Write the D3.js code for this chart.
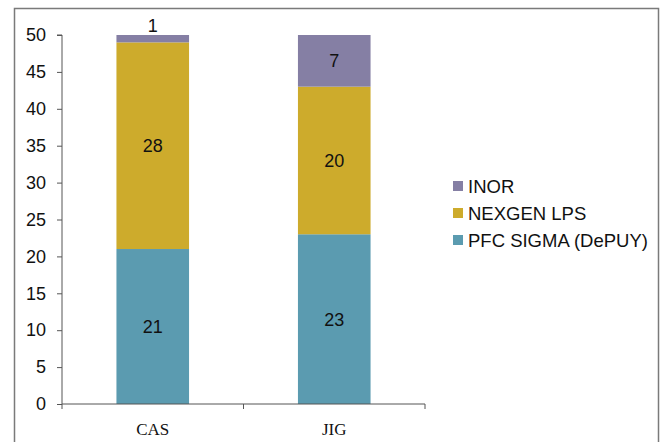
<!DOCTYPE html>
<html>
<head>
<meta charset="utf-8">
<script src="https://cdn.jsdelivr.net/npm/d3@7"></script>
<style>
  body { margin: 0; background: #fff; }
  svg { display: block; }
</style>
</head>
<body>
<div id="graphic"></div>
<script>
// chart data
const categories = ["CAS", "JIG"];
const seriesNames = ["PFC SIGMA (DePUY)", "NEXGEN LPS", "INOR"];
const pfcValues = [21, 23];
const nexgenValues = [28, 20];
const inorValues = [1, 7];
const yTicks = [0, 5, 10, 15, 20, 25, 30, 35, 40, 45, 50];

const colors = ["#5b9bb0", "#cdab2c", "#857fa4"];

const width = 660, height = 442;
const margin = {left: 62, top: 35, right: 235, bottom: 38};
const plotWidth = width - margin.left - margin.right;
const plotHeight = height - margin.top - margin.bottom;
const sans = "Liberation Sans, Arial, sans-serif";

const svg = d3.select("#graphic")
              .append("svg")
              .attr("width", width)
              .attr("height", height);

// outer frame
svg.append("rect")
   .attr("x", 14.5).attr("y", 8.5)
   .attr("width", 644).attr("height", 445)
   .attr("fill", "none")
   .attr("stroke", "#7a7a7a")
   .attr("stroke-width", 1.5);

const plot = svg.append("g")
                .attr("transform", "translate(" + margin.left + "," + margin.top + ")");

// stack the series
const rows = categories.map((c, i) => ({
    cat: c,
    "PFC SIGMA (DePUY)": pfcValues[i],
    "NEXGEN LPS": nexgenValues[i],
    "INOR": inorValues[i]
}));
const stacked = d3.stack().keys(seriesNames)(rows);

const x = d3.scaleBand()
            .domain(categories)
            .range([0, plotWidth])
            .paddingInner(0.6)
            .paddingOuter(0.3);

const y = d3.scaleLinear()
            .domain([0, 50])
            .range([plotHeight, 0]);

// bars
stacked.forEach((layer, si) => {
    plot.append("g")
        .selectAll("rect")
        .data(layer)
        .join("rect")
        .attr("x", d => x(d.data.cat))
        .attr("y", d => y(d[1]))
        .attr("width", x.bandwidth())
        .attr("height", d => y(d[0]) - y(d[1]))
        .attr("fill", colors[si]);
});

// value labels
stacked.forEach((layer, si) => {
    plot.append("g")
        .selectAll("text")
        .data(layer)
        .join("text")
        .attr("x", d => x(d.data.cat) + x.bandwidth() / 2)
        .attr("y", d => {
            // tiny segments get their label above the bar
            if (y(d[0]) - y(d[1]) < 18) return y(d[1]) - 3;
            return (y(d[0]) + y(d[1])) / 2 + 6.5;
        })
        .attr("text-anchor", "middle")
        .attr("font-family", sans)
        .attr("font-size", 18)
        .attr("fill", "#111")
        .text(d => d[1] - d[0]);
});

// y axis
const yAxis = plot.append("g")
    .call(d3.axisLeft(y).tickValues(yTicks).tickSize(5).tickPadding(11));
yAxis.selectAll("text")
     .attr("font-family", sans)
     .attr("font-size", 18)
     .attr("fill", "#111");
yAxis.selectAll("line, path").attr("stroke", "#555");
yAxis.select(".domain").attr("d", "M0," + plotHeight + "V0H-5");

// x axis with ticks between categories
const xAxis = plot.append("g")
    .attr("transform", "translate(0," + plotHeight + ")");
xAxis.append("line")
     .attr("x1", 0).attr("x2", plotWidth)
     .attr("stroke", "#555");
const boundaries = [0].concat(categories.map((c, i) => plotWidth * (i + 1) / categories.length));
xAxis.selectAll(".tk")
     .data(boundaries)
     .join("line")
     .attr("x1", d => d).attr("x2", d => d)
     .attr("y1", 0).attr("y2", 5)
     .attr("stroke", "#555");
xAxis.selectAll(".lbl")
     .data(categories)
     .join("text")
     .attr("x", (c, i) => plotWidth * (i + 0.5) / categories.length)
     .attr("y", 31)
     .attr("text-anchor", "middle")
     .attr("font-family", "Liberation Serif, Times New Roman, serif")
     .attr("font-size", 17)
     .attr("fill", "#111")
     .text(d => d);

// legend (top item = last series)
const legendItems = seriesNames.slice().reverse();
const legend = svg.append("g").attr("transform", "translate(453,181)");
legendItems.forEach((name, i) => {
    const g = legend.append("g").attr("transform", "translate(0," + (i * 27) + ")");
    g.append("rect")
     .attr("width", 10).attr("height", 10)
     .attr("y", 0)
     .attr("fill", colors[seriesNames.indexOf(name)]);
    g.append("text")
     .attr("x", 15).attr("y", 11.5)
     .attr("font-family", sans)
     .attr("font-size", 18.5)
     .attr("fill", "#111")
     .text(name);
});
</script>
</body>
</html>
